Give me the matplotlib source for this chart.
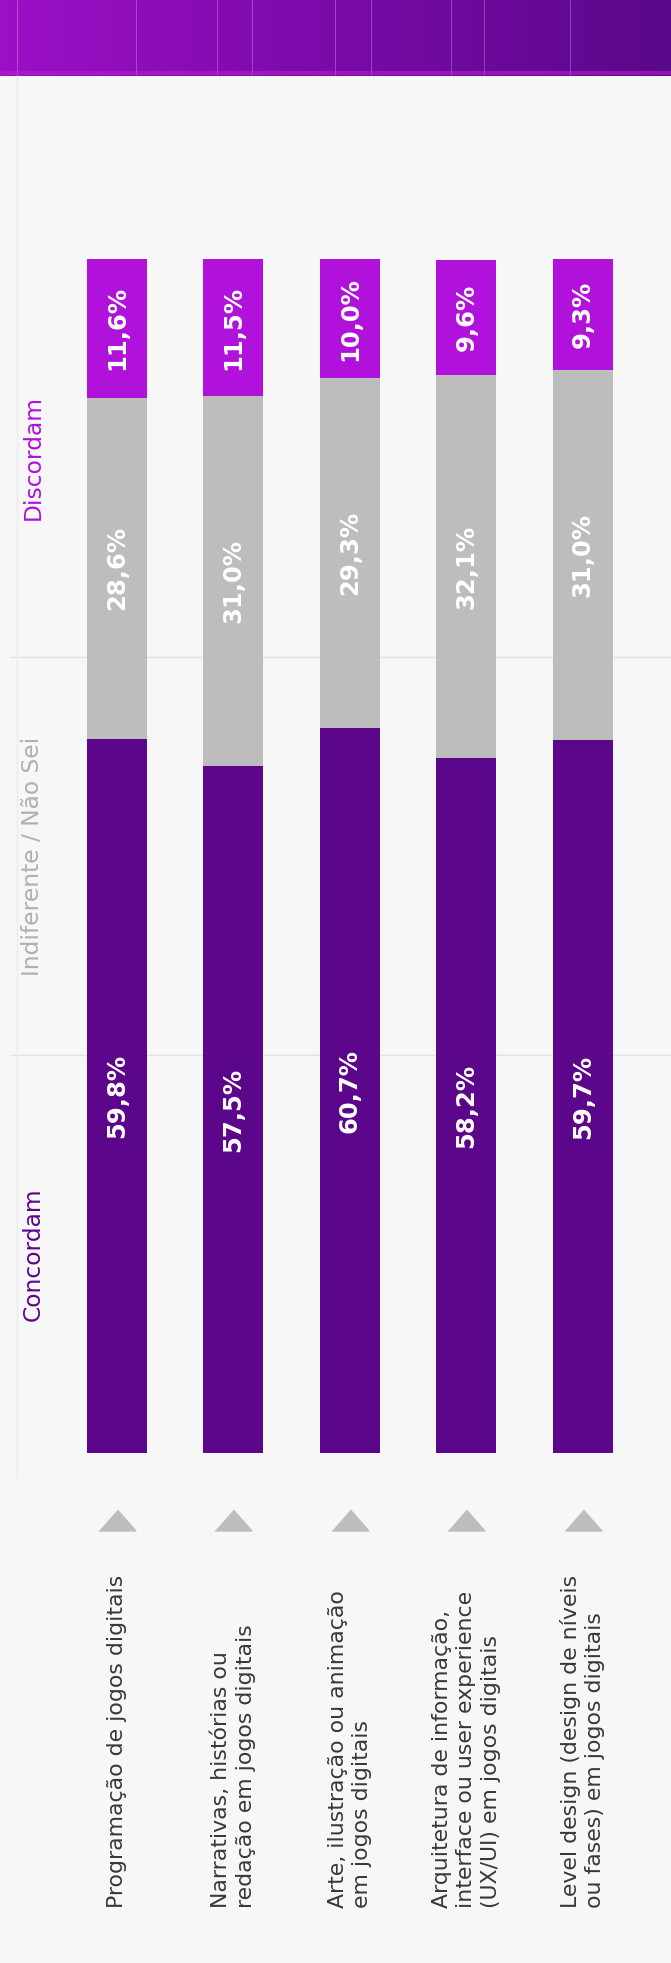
import numpy as np
import matplotlib
matplotlib.use("Agg")
import matplotlib.pyplot as plt
from matplotlib.colors import LinearSegmentedColormap

plt.rcParams['font.family'] = ['DejaVu Sans']

# data
areas = [
    "Programação de jogos digitais",
    "Narrativas, histórias ou\nredação em jogos digitais",
    "Arte, ilustração ou animação\nem jogos digitais",
    "Arquitetura de informação,\ninterface ou user experience\n(UX/UI) em jogos digitais",
    "Level design (design de níveis\nou fases) em jogos digitais",
]
concordam = [59.8, 57.5, 60.7, 58.2, 59.7]
indiferente = [28.6, 31.0, 29.3, 32.1, 31.0]
discordam = [11.6, 11.5, 10.0, 9.6, 9.3]
series_names = ["Concordam", "Indiferente / Não Sei", "Discordam"]

c_conc = '#5c068c'
c_ind = '#bdbdbd'
c_disc = '#b012dc'
bg = '#f7f7f7'

W, H = 671, 1963
fig = plt.figure(figsize=(W / 100, H / 100), dpi=100, facecolor=bg)

# header band with gradient
hdr = fig.add_axes([0, (H - 76) / H, 1, 76 / H])
cmap = LinearSegmentedColormap.from_list('hdr', ['#9c10c6', '#7a0aa8', '#5a088a'])
grad = np.linspace(0, 1, 256).reshape(1, -1)
hdr.imshow(grad, aspect='auto', cmap=cmap, extent=[0, W, 0, 76])
for xv in [17, 136, 217, 252, 335, 371, 451, 484, 570]:
    hdr.axvline(xv, color='white', lw=0.6, alpha=0.3)
hdr.axhline(3, color='#b020d0', lw=3, alpha=0.6)
hdr.set_xlim(0, W)
hdr.set_ylim(0, 76)
hdr.axis('off')

# main chart (bars run bottom to top)
x0, x1 = 11, W
y_top, y_bot = 259, 1453
ax = fig.add_axes([x0 / W, (H - y_bot) / H, (x1 - x0) / W, (y_bot - y_top) / H])
ax.set_facecolor(bg)
step = 116.45
cx0 = 117
ax.set_xlim((x0 - cx0) / step, (x1 - cx0) / step)
ax.set_ylim(0, 100)
px = (y_bot - y_top) / 100.0

x = np.arange(len(areas))
bw = 60 / step
for g in [100 / 3, 200 / 3]:
    ax.axhline(g, color='#e2e2e2', lw=1, zorder=0)

b1 = np.array(concordam)
b2 = b1 + np.array(indiferente)
ax.bar(x, concordam, width=bw, color=c_conc, zorder=2)
ax.bar(x, indiferente, width=bw, bottom=b1, color=c_ind, zorder=2)
ax.bar(x, discordam, width=bw, bottom=b2, color=c_disc, zorder=2)


def fmt(v):
    return f"{v:.1f}".replace('.', ',') + '%'


for i in range(len(areas)):
    ax.text(x[i], concordam[i] / 2, fmt(concordam[i]), rotation=90, ha='center', va='center',
            color='white', fontsize=17.5, fontweight='bold', zorder=3)
    ax.text(x[i], b1[i] + indiferente[i] / 2, fmt(indiferente[i]), rotation=90, ha='center',
            va='center', color='white', fontsize=17.5, fontweight='bold', zorder=3)
    ax.text(x[i], b2[i] + discordam[i] / 2, fmt(discordam[i]), rotation=90, ha='center',
            va='center', color='white', fontsize=17.5, fontweight='bold', zorder=3)

# series labels on the left
lx = (33 - cx0) / step
for name, col, yc in zip(series_names, [c_conc, '#b0b0b0', c_disc], [1 / 6, 1 / 2, 5 / 6]):
    ax.text(lx, yc * 100, name, rotation=90, ha='center', va='center', color=col, fontsize=16.8)

# faint axis line
ax.plot([(17 - cx0) / step] * 2, [-(1477 - y_bot) / px, 100 + (y_top - 76) / px],
        color='#ebebeb', lw=1, clip_on=False, zorder=0)

# triangles + category labels under the bars
tri = [(-1, -0.57), (1, -0.57), (0, 0.57)]
ax.plot(x, [-(1520 - y_bot) / px] * len(x), ls='none', marker=tri, ms=26.5,
        color=c_ind, clip_on=False)
for i, lab in enumerate(areas):
    ax.text(x[i], -(1908 - y_bot) / px, lab, rotation=90, ha='center', va='bottom',
            multialignment='left', color='#383838', fontsize=15.8, linespacing=1.27)

for s in ax.spines.values():
    s.set_visible(False)
ax.set_xticks([])
ax.set_yticks([])

fig.savefig('out.png', dpi=100, facecolor=bg)
